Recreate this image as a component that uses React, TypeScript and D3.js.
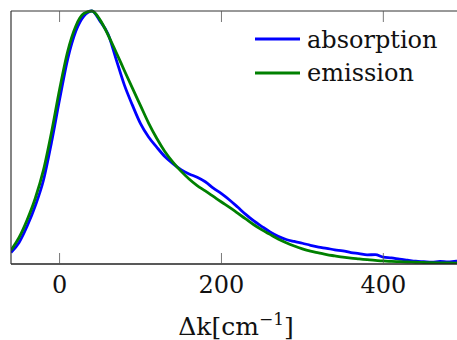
import React from "react";
import * as d3 from "d3";

const xValues = [-60,-50,-40,-30,-20,-10,0,10,20,30,40,50,60,70,80,90,100,110,120,130,140,150,160,170,180,190,200,210,220,230,240,250,260,270,280,290,300,310,320,330,340,350,360,370,380,390,400,410,420,430,440,450,460,470,480,490,500];

const absorption = [0.045,0.085,0.15,0.23,0.33,0.48,0.65,0.81,0.92,0.98,1.00,0.96,0.908,0.808,0.708,0.628,0.555,0.502,0.462,0.425,0.397,0.373,0.356,0.343,0.325,0.30,0.278,0.253,0.225,0.196,0.17,0.148,0.127,0.11,0.097,0.089,0.082,0.074,0.067,0.062,0.056,0.052,0.045,0.041,0.036,0.037,0.027,0.024,0.019,0.015,0.011,0.009,0.007,0.010,0.008,0.011,0.010];

const emission = [0.055,0.105,0.175,0.26,0.37,0.52,0.69,0.84,0.94,0.99,1.00,0.965,0.905,0.836,0.765,0.695,0.626,0.557,0.497,0.445,0.403,0.367,0.336,0.31,0.289,0.267,0.245,0.224,0.201,0.178,0.155,0.135,0.117,0.099,0.084,0.071,0.060,0.051,0.044,0.037,0.032,0.027,0.023,0.020,0.017,0.014,0.012,0.010,0.009,0.008,0.007,0.006,0.005,0.0045,0.004,0.0035,0.003];

const xTicks = [0, 200, 400];
const seriesNames = ["absorption", "emission"];
const seriesColors = ["#0000ff", "#008000"];

export default function App() {
  const W = 457, H = 340;
  const left = 11, top = 11, bottom = 264;
  const x = d3.scaleLinear().domain([-60, 491]).range([left, 457]);
  const y = d3.scaleLinear().domain([0, 1]).range([bottom, top]);
  const line = d3.line<number>().x((_, i) => x(xValues[i])).y((d) => y(d)).curve(d3.curveMonotoneX);
  const font = "DejaVu Serif, Liberation Serif, serif";
  const series = [absorption, emission];
  return (
    <svg width={W} height={H} style={{ position: "absolute", left: 0, top: 0 }}>
      <defs>
        <clipPath id="plot"><rect x={left} y={top - 3} width={W - left} height={bottom - top + 3} /></clipPath>
      </defs>
      <g clipPath="url(#plot)">
        {series.map((s, k) => (
          <path key={k} d={line(s) || ""} fill="none" stroke={seriesColors[k]} strokeWidth={2.8} strokeLinejoin="round" />
        ))}
      </g>
      <line x1={left} x2={W} y1={top} y2={top} stroke="#333" strokeWidth={1} />
      <line x1={left} x2={W} y1={bottom} y2={bottom} stroke="#222" strokeWidth={1.4} />
      <line x1={left} x2={left} y1={top} y2={bottom} stroke="#333" strokeWidth={1.2} />
      {xTicks.map((t) => (
        <g key={t}>
          <line x1={x(t)} x2={x(t)} y1={top} y2={top + 11} stroke="#555" strokeWidth={0.8} />
          <line x1={x(t)} x2={x(t)} y1={bottom} y2={bottom - 11} stroke="#555" strokeWidth={0.8} />
          <text x={x(t)} y={293} textAnchor="middle" fontFamily={font} fontSize={24} fill="#111">{t}</text>
        </g>
      ))}
      <text x={236} y={335} textAnchor="middle" fontFamily={font} fontSize={25} fill="#111">
        Δk[cm<tspan dy={-10} fontSize={17}>−1</tspan><tspan dy={10}>]</tspan>
      </text>
      {seriesNames.map((n, k) => (
        <g key={n}>
          <line x1={255} x2={300} y1={39 + k * 34} y2={39 + k * 34} stroke={seriesColors[k]} strokeWidth={3} />
          <text x={307} y={48 + k * 33} fontFamily={font} fontSize={24} fill="#111">{n}</text>
        </g>
      ))}
    </svg>
  );
}
